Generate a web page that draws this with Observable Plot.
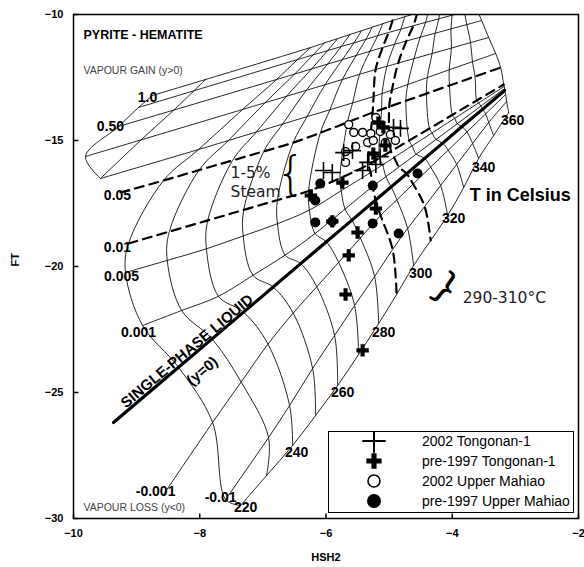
<!DOCTYPE html>
<html><head><meta charset="utf-8">
<script src="https://cdn.jsdelivr.net/npm/d3@7"></script>
<script src="https://cdn.jsdelivr.net/npm/@observablehq/plot@0.6"></script>
<style>
body{margin:0;background:#fff;}
#wrap{position:relative;width:584px;height:567px;}
#legend{position:absolute;left:328px;top:431px;width:244px;height:80px;border:1px solid #000;background:#fff;}
</style></head><body><div id="wrap"></div>
<script>
const xTicks = [-10,-8,-6,-4,-2];
const yTicks = [-10,-15,-20,-25,-30];

// data points (HSH2, FT)
const tongonan2002 = [[-6.04,-16.19],[-5.90,-16.27],[-5.72,-15.48],[-5.58,-15.40],[-5.34,-15.87],[-5.21,-15.95],[-5.14,-15.64],[-4.93,-14.48],[-4.82,-14.52],[-5.42,-16.19]];
const tongonanPre = [[-5.09,-14.48],[-5.17,-14.29],[-5.06,-15.20],[-5.25,-15.52],[-5.74,-16.67],[-5.21,-17.70],[-5.50,-18.65],[-5.64,-19.56],[-5.69,-21.11],[-5.42,-23.33],[-6.24,-17.18],[-5.90,-18.21]];
const mahiao2002 = [[-5.64,-14.37],[-5.21,-14.09],[-5.56,-14.68],[-5.42,-14.68],[-5.29,-14.72],[-5.14,-14.64],[-4.98,-14.76],[-5.34,-15.08],[-5.25,-15.00],[-5.06,-15.08],[-4.90,-15.00],[-5.53,-15.24],[-5.69,-15.44],[-5.69,-15.87]];
const mahiaoPre = [[-6.09,-16.71],[-6.17,-17.38],[-6.17,-18.25],[-5.90,-18.21],[-5.26,-16.79],[-5.26,-18.29],[-4.85,-18.69],[-4.55,-16.31]];

// grid temperatures (°C)
const temps = [220,230,240,250,260,270,280,290,300,310,320,330,340,350,360];
// grid nodes (HSH2, FT) for each vapour fraction y, one node per temperature above
const y100 = [[-6.244,-11.310],[-6.024,-11.127],[-5.815,-10.956],[-5.620,-10.794],[-5.439,-10.647],[-5.269,-10.508],[-5.100,-10.365],[-4.945,-10.238],[-4.754,-10.091],[-4.551,-9.933],[-4.374,-9.794],[-4.196,-9.655],[-4.019,-9.516],[-3.841,-9.373],[-3.677,-9.246]];
const y080 = [[-6.450,-11.786],[-6.204,-11.603],[-5.975,-11.433],[-5.758,-11.270],[-5.556,-11.123],[-5.368,-10.984],[-5.181,-10.841],[-5.008,-10.714],[-4.813,-10.579],[-4.618,-10.448],[-4.422,-10.313],[-4.212,-10.171],[-4.003,-10.028],[-3.808,-9.897],[-3.613,-9.762]];
const y050 = [[-6.783,-12.579],[-6.498,-12.365],[-6.228,-12.159],[-5.976,-11.968],[-5.742,-11.794],[-5.523,-11.627],[-5.304,-11.460],[-5.103,-11.310],[-4.914,-11.183],[-4.726,-11.052],[-4.507,-10.901],[-4.271,-10.742],[-4.021,-10.571],[-3.769,-10.401],[-3.534,-10.238]];
const y020 = [[-7.322,-13.770],[-6.964,-13.500],[-6.626,-13.246],[-6.311,-13.008],[-6.014,-12.786],[-5.740,-12.579],[-5.468,-12.373],[-5.214,-12.183],[-5.035,-12.056],[-4.856,-11.929],[-4.605,-11.750],[-4.319,-11.548],[-4.014,-11.333],[-3.710,-11.115],[-3.423,-10.913]];
const y010 = [[-8.019,-15.357],[-7.547,-15.000],[-7.103,-14.663],[-6.688,-14.349],[-6.300,-14.052],[-5.938,-13.782],[-5.578,-13.508],[-5.246,-13.254],[-5.111,-13.135],[-4.956,-13.000],[-4.704,-12.778],[-4.395,-12.504],[-4.048,-12.194],[-3.680,-11.873],[-3.312,-11.548]];
const y005 = [[-8.574,-16.587],[-8.011,-16.175],[-7.480,-15.790],[-6.984,-15.429],[-6.520,-15.087],[-6.089,-14.694],[-5.659,-14.278],[-5.261,-13.889],[-5.119,-13.766],[-4.998,-13.659],[-4.734,-13.425],[-4.409,-13.139],[-4.044,-12.817],[-3.639,-12.460],[-3.233,-12.103]];
const y001 = [[-9.128,-19.087],[-8.482,-18.615],[-7.873,-18.171],[-7.303,-17.754],[-6.770,-17.365],[-6.276,-17.004],[-5.781,-16.500],[-5.325,-15.952],[-5.154,-15.698],[-4.971,-15.429],[-4.683,-15.000],[-4.361,-14.524],[-3.998,-13.984],[-3.613,-13.413],[-3.185,-12.778]];
const y0005 = [[-9.176,-20.238],[-8.515,-19.758],[-7.894,-19.298],[-7.312,-18.786],[-6.769,-18.302],[-6.263,-17.762],[-5.759,-16.992],[-5.293,-16.270],[-5.103,-15.964],[-4.921,-15.671],[-4.637,-15.210],[-4.320,-14.698],[-3.960,-14.119],[-3.580,-13.504],[-3.177,-12.857]];
const y0001 = [[-8.906,-22.341],[-8.287,-21.746],[-7.704,-21.183],[-7.157,-20.349],[-6.647,-19.548],[-6.173,-18.694],[-5.699,-17.722],[-5.261,-16.825],[-5.052,-16.437],[-4.843,-16.048],[-4.571,-15.544],[-4.257,-14.960],[-3.922,-14.337],[-3.547,-13.635],[-3.170,-12.937]];
const y0 = [[-8.336,-24.000],[-7.805,-22.873],[-7.306,-21.810],[-6.837,-20.813],[-6.401,-19.885],[-5.994,-19.020],[-5.588,-18.159],[-5.214,-17.361],[-4.968,-16.841],[-4.723,-16.317],[-4.437,-15.710],[-4.151,-15.103],[-3.845,-14.448],[-3.517,-13.754],[-3.170,-13.016]];
const yn0001 = [[-7.797,-26.190],[-7.344,-24.583],[-6.919,-23.079],[-6.520,-21.849],[-6.146,-20.802],[-5.800,-19.837],[-5.455,-18.869],[-5.135,-17.976],[-4.876,-17.353],[-4.620,-16.726],[-4.342,-16.056],[-4.065,-15.385],[-3.767,-14.663],[-3.471,-13.944],[-3.154,-13.175]];
const yn001 = [[-7.591,-29.246],[-6.910,-26.786],[-6.577,-25.516],[-6.212,-24.048],[-5.864,-22.738],[-5.547,-21.548],[-5.230,-20.397],[-4.945,-19.325],[-4.707,-18.492],[-4.437,-17.619],[-4.184,-16.786],[-3.930,-15.952],[-3.677,-15.119],[-3.423,-14.286],[-3.138,-13.452]];
const yEdge = [[-7.353,-29.484],[-6.941,-28.294],[-6.529,-27.103],[-6.165,-25.913],[-5.816,-24.722],[-5.483,-23.492],[-5.166,-22.262],[-4.881,-21.111],[-4.612,-19.960],[-4.342,-18.968],[-4.073,-17.976],[-3.819,-16.865],[-3.582,-15.714],[-3.344,-14.802],[-3.106,-13.889]];
// low-temperature ends of the vapour-fraction lines
const lineStarts = [["1.0",[-8.748,-13.214]],["0.8",[-8.970,-13.690]],["0.5",[-9.287,-14.444]],["0.2",[-9.810,-15.635]],["0.1",[-9.572,-16.508]],["0.05",[-9.255,-17.063]],["0",[-9.366,-26.190]],["-0.001",[-8.574,-29.048]]];
// short low-temperature lines at the upper-left edge of the vapour-gain field
const leftEdge1 = [[-8.748,-13.214],[-8.970,-13.690],[-9.287,-14.444],[-9.810,-15.635],[-9.572,-16.508]];
const leftEdge2 = [[-7.908,-12.579],[-8.384,-13.730],[-8.906,-14.921],[-9.572,-16.508]];

// labels
const boldLabels = [
  {x:-8.827,y:-13.294,t:"1.0",a:"end"},
  {x:-9.414,y:-14.444,t:"0.50",a:"end"},
  {x:-9.303,y:-17.183,t:"0.05",a:"end"},
  {x:-9.303,y:-19.246,t:"0.01",a:"end"},
  {x:-9.239,y:-20.397,t:"0.005",a:"end"},
  {x:-8.970,y:-22.619,t:"0.001",a:"end"},
  {x:-8.700,y:-28.929,t:"-0.001",a:"end"},
  {x:-7.670,y:-29.167,t:"-0.01",a:"end"},
  {x:-7.274,y:-29.563,t:"220",a:"start"},
  {x:-6.466,y:-27.381,t:"240",a:"start"},
  {x:-5.737,y:-25.000,t:"260",a:"start"},
  {x:-5.087,y:-22.619,t:"280",a:"start"},
  {x:-4.501,y:-20.278,t:"300",a:"start"},
  {x:-3.978,y:-18.095,t:"320",a:"start"},
  {x:-3.503,y:-16.071,t:"340",a:"start"},
  {x:-3.043,y:-14.206,t:"360",a:"start"}
];
const notes = [
  {x:-7.512,y:-16.310,t:"1-5%"},
  {x:-7.512,y:-17.063,t:"Steam"},
  {x:-3.835,y:-21.270,t:"290-310°C"}
];

const levels = [
  {id:"1.0",pts:y100},{id:"0.8",pts:y080},{id:"0.5",pts:y050},{id:"0.2",pts:y020},{id:"0.1",pts:y010},
  {id:"0.05",pts:y005},{id:"0.01",pts:y001},{id:"0.005",pts:y0005},{id:"0.001",pts:y0001},
  {id:"0",pts:y0},{id:"-0.001",pts:yn0001},{id:"-0.01",pts:yn001},{id:"edge",pts:yEdge}
];
const startOf = new Map(lineStarts);
const withStart = l => startOf.has(l.id) ? [startOf.get(l.id), ...l.pts] : l.pts;
const dashedLevels = new Set(["0.05","0.01"]);
const dashedTemps = new Set([290,310]);

const rows = [];
levels.forEach(l => { if (!dashedLevels.has(l.id) && l.id !== "0") withStart(l).forEach(([x,y]) => rows.push({id:"y"+l.id, x, y})); });
temps.forEach((t,i) => { if (!dashedTemps.has(t)) levels.forEach(l => rows.push({id:"T"+t, x:l.pts[i][0], y:l.pts[i][1]})); });
leftEdge1.forEach(([x,y]) => rows.push({id:"e1", x, y}));
leftEdge2.forEach(([x,y]) => rows.push({id:"e2", x, y}));

const dashRows = [];
levels.forEach(l => { if (dashedLevels.has(l.id)) withStart(l).forEach(([x,y]) => dashRows.push({id:"y"+l.id, x, y})); });
temps.forEach((t,i) => { if (dashedTemps.has(t)) levels.forEach(l => dashRows.push({id:"T"+t, x:l.pts[i][0], y:l.pts[i][1]})); });

const liquidRows = withStart(levels[9]).map(([x,y]) => ({x,y}));
const toXY = arr => arr.map(([x,y]) => ({x,y}));
const F = "Liberation Sans, Arial, sans-serif";
const tickUp = {draw(ctx){ ctx.moveTo(0,0); ctx.lineTo(0,-5); }};
const tickRight = {draw(ctx){ ctx.moveTo(0,0); ctx.lineTo(5,0); }};

const chart = Plot.plot({
  width:584, height:567,
  marginLeft:73, marginRight:6, marginTop:14, marginBottom:49,
  x:{domain:[-10,-2]}, y:{domain:[-30,-10]},
  style:{fontFamily:F, background:"#fff", color:"#000"},
  marks:[
    Plot.line(rows, {x:"x", y:"y", z:"id", curve:"catmull-rom", stroke:"#000", strokeWidth:0.85, clip:true}),
    Plot.line(liquidRows, {x:"x", y:"y", stroke:"#000", strokeWidth:3.2, clip:true}),
    Plot.line(dashRows, {x:"x", y:"y", z:"id", curve:"catmull-rom", stroke:"#000", strokeWidth:2.2, strokeDasharray:"9,6", clip:true}),
    Plot.frame({stroke:"#000", strokeWidth:1.5}),
    Plot.dot(xTicks, {x:d=>d, frameAnchor:"bottom", symbol:tickUp, stroke:"#000", fill:"none", strokeWidth:1.5}),
    Plot.dot(yTicks, {y:d=>d, frameAnchor:"left", symbol:tickRight, stroke:"#000", fill:"none", strokeWidth:1.5}),
    Plot.axisX(xTicks, {ticks:xTicks, tickSize:0, tickPadding:11, fontWeight:"bold", fontSize:11, label:null}),
    Plot.axisY(yTicks, {ticks:yTicks, tickSize:0, tickPadding:10, fontWeight:"bold", fontSize:11, label:null}),
    Plot.text(["HSH2"], {frameAnchor:"bottom", dy:42, text:d=>d, fontWeight:"bold", fontSize:11}),
    Plot.text(["FT"], {frameAnchor:"left", dx:-58, rotate:-90, text:d=>d, fontWeight:"bold", fontSize:11}),
    Plot.text(["PYRITE - HEMATITE"], {x:[-9.842], y:[-10.833], text:d=>d, textAnchor:"start", fontWeight:"bold", fontSize:12.5}),
    Plot.text(["VAPOUR GAIN (y>0)"], {x:[-9.842], y:[-12.222], text:d=>d, textAnchor:"start", fontSize:10.5, fill:"#444"}),
    Plot.text(["VAPOUR LOSS (y<0)"], {x:[-9.842], y:[-29.563], text:d=>d, textAnchor:"start", fontSize:10.5, fill:"#444"}),
    Plot.text(boldLabels, {x:"x", y:"y", text:"t", textAnchor:d=>d.a, fontWeight:"bold", fontSize:14}),
    Plot.text(notes, {x:"x", y:"y", text:"t", textAnchor:"start", fontSize:15.5, fontFamily:"DejaVu Sans", fill:"#222"}),
    Plot.text(["T in Celsius"], {x:[-3.724], y:[-17.183], text:d=>d, textAnchor:"start", fontWeight:"bold", fontSize:18}),
    Plot.text(["{"], {x:[-6.561], y:[-16.35], text:d=>d, fontSize:46, fontFamily:"DejaVu Sans", fontWeight:"200"}),
    Plot.text(["}"], {x:[-4.105], y:[-20.833], text:d=>d, rotate:37, fontSize:38, fontFamily:"DejaVu Sans"}),
    Plot.text(["SINGLE-PHASE LIQUID"], {x:[-8.20], y:[-23.36], text:d=>d, rotate:-40, fontWeight:"bold", fontSize:15}),
    Plot.text(["(y=0)"], {x:[-7.96], y:[-24.15], text:d=>d, rotate:-40, fontWeight:"bold", fontSize:15}),
    Plot.dot(toXY(mahiaoPre), {x:"x", y:"y", r:5, fill:"#000", stroke:"none"}),
    Plot.dot(toXY(mahiao2002), {x:"x", y:"y", r:4, fill:"#fff", stroke:"#000", strokeWidth:1.4}),
    Plot.dot(toXY(tongonanPre), {x:"x", y:"y", symbol:"cross", r:5.2, fill:"#000", stroke:"none"}),
    Plot.dot(toXY(tongonan2002), {x:"x", y:"y", symbol:"plus", r:5.5, stroke:"#000", strokeWidth:1.6})
  ]
});
const wrap = document.getElementById("wrap");
wrap.appendChild(chart);

// legend
const legendItems = [
  {label:"2002 Tongonan-1", kind:"plus"},
  {label:"pre-1997 Tongonan-1", kind:"cross"},
  {label:"2002 Upper Mahiao", kind:"open"},
  {label:"pre-1997 Upper Mahiao", kind:"filled"}
];
const lg = document.createElement("div"); lg.id = "legend"; wrap.appendChild(lg);
const svg = d3.select(lg).append("svg").attr("width",244).attr("height",80);
legendItems.forEach((d,i) => {
  const g = svg.append("g").attr("transform", `translate(45,${9 + i*20})`);
  if (d.kind==="plus") g.append("path").attr("d", d3.symbol(d3.symbolPlus, 180)()).attr("stroke","#000").attr("stroke-width",2).attr("fill","none");
  if (d.kind==="cross") g.append("path").attr("d", d3.symbol(d3.symbolCross, 130)()).attr("fill","#000");
  if (d.kind==="open") g.append("circle").attr("r",6).attr("fill","#fff").attr("stroke","#000").attr("stroke-width",1.6);
  if (d.kind==="filled") g.append("circle").attr("r",7).attr("fill","#000");
  svg.append("text").attr("x",93).attr("y",9 + i*20).attr("dy","0.35em").attr("font-family",F).attr("font-size",14).text(d.label);
});
</script></body></html>
